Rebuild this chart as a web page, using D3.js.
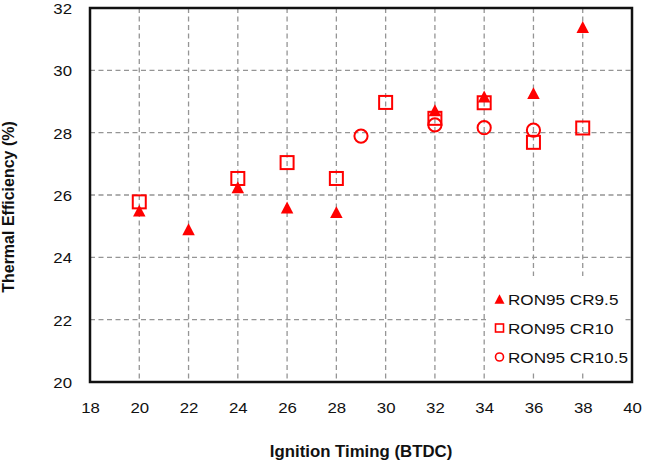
<!DOCTYPE html>
<html>
<head>
<meta charset="utf-8">
<script src="https://cdn.jsdelivr.net/npm/d3@7"></script>
<style>
  body { margin: 0; background: #fff; }
  text { font-family: "Liberation Sans", Arial, sans-serif; fill: #111; }
</style>
</head>
<body>
<svg id="svg"></svg>
<script>
// data
let seriesNames = ["RON95 CR9.5", "RON95 CR10", "RON95 CR10.5"];

let cr95X = [20, 22, 24, 26, 28, 32, 34, 36, 38];
let cr95Y = [25.5, 24.9, 26.25, 25.6, 25.45, 28.72, 29.16, 29.27, 31.39];

let cr10X = [20, 24, 26, 28, 30, 32, 34, 36, 38];
let cr10Y = [25.78, 26.53, 27.04, 26.53, 28.97, 28.46, 28.96, 27.69, 28.15];

let cr105X = [29, 32, 34, 36];
let cr105Y = [27.89, 28.25, 28.16, 28.08];

let xTicks = [18, 20, 22, 24, 26, 28, 30, 32, 34, 36, 38, 40];
let yTicks = [20, 22, 24, 26, 28, 30, 32];

// layout
let width = 645;
let height = 466;
let plotLeft = 90, plotRight = 632, plotTop = 8, plotBottom = 382;
let stretch = 1.12; // the picture's text is a bit wide

let svg = d3.select("#svg").attr("width", width).attr("height", height);

let xScale = d3.scaleLinear().domain([18, 40]).range([plotLeft, plotRight]);
let yScale = d3.scaleLinear().domain([20, 32]).range([plotBottom, plotTop]);

// grid
let grid = svg.append("g");
grid.selectAll(".vg")
  .data(xTicks.slice(1, -1))
  .enter().append("line")
  .attr("x1", d => xScale(d)).attr("x2", d => xScale(d))
  .attr("y1", plotTop).attr("y2", plotBottom);
grid.selectAll(".hg")
  .data(yTicks.slice(1, -1))
  .enter().append("line")
  .attr("x1", plotLeft).attr("x2", plotRight)
  .attr("y1", d => yScale(d)).attr("y2", d => yScale(d));
grid.selectAll("line")
  .attr("stroke", "#959595")
  .attr("stroke-width", 1.3)
  .attr("stroke-dasharray", "5,3.5");

// axes (labels only, frame is drawn as a rect)
let xAxis = d3.axisBottom(xScale).tickValues(xTicks).tickSize(0).tickPadding(0);
let gx = svg.append("g")
  .attr("transform", "translate(0," + plotBottom + ")")
  .call(xAxis);
gx.select(".domain").remove();
gx.selectAll("text")
  .attr("dy", null).attr("y", 31)
  .attr("transform", "scale(" + stretch + ",1)")
  .style("font-size", "15px");

let yAxis = d3.axisLeft(yScale).tickValues(yTicks).tickSize(0).tickPadding(0);
let gy = svg.append("g")
  .attr("transform", "translate(" + plotLeft + ",0)")
  .call(yAxis);
gy.select(".domain").remove();
gy.selectAll("text")
  .attr("x", -18 / stretch)
  .attr("dy", "0.36em")
  .attr("transform", "scale(" + stretch + ",1)")
  .style("font-size", "15px");

svg.selectAll(".tick text").style("fill", "#111").style("font-family", "'Liberation Sans', Arial, sans-serif");

// axis titles
svg.append("text")
  .attr("transform", "translate(361,457) scale(1.05,1)")
  .attr("text-anchor", "middle")
  .style("font-size", "16px")
  .style("font-weight", "bold")
  .text("Ignition Timing (BTDC)");

svg.append("text")
  .attr("transform", "translate(14,207) rotate(-90)")
  .attr("text-anchor", "middle")
  .style("font-size", "16px")
  .style("font-weight", "bold")
  .text("Thermal Efficiency (%)");

// markers
let triPath = (s) => {
  let h = s * 0.95;
  return "M0," + (-h / 2) + "L" + (s / 2) + "," + (h / 2) + "L" + (-s / 2) + "," + (h / 2) + "Z";
};

let red = "#ff0000";

svg.append("g").selectAll("path")
  .data(cr95X)
  .enter().append("path")
  .attr("d", triPath(12.5))
  .attr("transform", (d, i) => "translate(" + xScale(d) + "," + yScale(cr95Y[i]) + ")")
  .attr("fill", red);

svg.append("g").selectAll("rect")
  .data(cr10X)
  .enter().append("rect")
  .attr("x", d => xScale(d) - 6.5)
  .attr("y", (d, i) => yScale(cr10Y[i]) - 6.5)
  .attr("width", 13).attr("height", 13)
  .attr("fill", "none")
  .attr("stroke", red)
  .attr("stroke-width", 2);

svg.append("g").selectAll("circle")
  .data(cr105X)
  .enter().append("circle")
  .attr("cx", d => xScale(d))
  .attr("cy", (d, i) => yScale(cr105Y[i]))
  .attr("r", 6.6)
  .attr("fill", "none")
  .attr("stroke", red)
  .attr("stroke-width", 2);

// frame
svg.append("rect")
  .attr("x", plotLeft).attr("y", plotTop)
  .attr("width", plotRight - plotLeft).attr("height", plotBottom - plotTop)
  .attr("fill", "none")
  .attr("stroke", "#111")
  .attr("stroke-width", 2.5);

// legend
let legend = svg.append("g");
legend.append("rect")
  .attr("x", 486).attr("y", 276)
  .attr("width", 136).attr("height", 95)
  .attr("fill", "#fff");

let rowY = [299, 328, 357];
legend.append("path")
  .attr("d", triPath(10))
  .attr("transform", "translate(499.5," + rowY[0] + ")")
  .attr("fill", red);
legend.append("rect")
  .attr("x", 495.5).attr("y", rowY[1] - 4)
  .attr("width", 8).attr("height", 8)
  .attr("fill", "none").attr("stroke", red).attr("stroke-width", 1.6);
legend.append("circle")
  .attr("cx", 499.5).attr("cy", rowY[2])
  .attr("r", 4)
  .attr("fill", "none").attr("stroke", red).attr("stroke-width", 1.6);

legend.selectAll(".lt")
  .data(seriesNames)
  .enter().append("text")
  .attr("transform", (d, i) => "translate(508," + (rowY[i] + 6) + ") scale(" + stretch + ",1)")
  .style("font-size", "15.3px")
  .text(d => d);
</script>
</body>
</html>
